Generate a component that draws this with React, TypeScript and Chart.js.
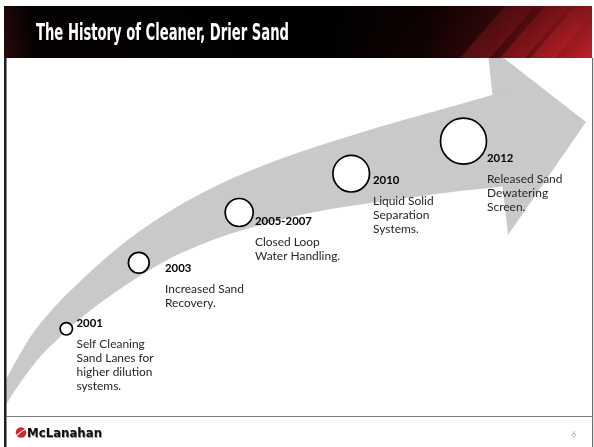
import React, { useEffect, useRef } from "react";
import { Chart, registerables } from "chart.js";

Chart.register(...registerables);

const TITLE = "The History of Cleaner, Drier Sand";
const BRAND = "McLanahan";
const PAGE_NUMBER = "6";

// Milestones along the arrow
const years = ["2001", "2003", "2005-2007", "2010", "2012"];
const descriptions = [
  ["Self Cleaning", "Sand Lanes for", "higher dilution", "systems."],
  ["Increased Sand", "Recovery."],
  ["Closed Loop", "Water Handling."],
  ["Liquid Solid", "Separation", "Systems."],
  ["Released Sand", "Dewatering", "Screen."],
];
const circleX = [66.3, 138.8, 239.2, 351.2, 463.5];
const circleY = [328.8, 262.8, 212.5, 173.7, 141.2];
const circleRadius = [6.2, 10.4, 14, 18.3, 23];
const labelX = [76.5, 165, 255, 373, 487];
const yearBaseline = [327, 272, 225, 184, 162];

// Arrow outline (slide pixel space)
const upperEdgeX = [5, 20, 33, 50, 67, 100, 133, 167, 200, 233, 267, 300, 350, 400, 450, 492, 508];
const upperEdgeY = [381, 354, 333, 312, 294, 263, 236, 213, 194, 178, 164, 152, 136, 121, 107, 95, 91];
const lowerEdgeX = [5, 20, 40, 60, 75, 100, 123, 167, 200, 233, 300, 350, 400, 460, 508];
const lowerEdgeY = [406, 383, 357, 337, 323, 303, 287, 260, 245, 233, 215, 206, 199, 191, 186];
const headTopX = [487, 586];
const headTopY = [45, 122];
const headBottomX = [487, 508, 586];
const headBottomY = [45, 235, 122];

const ARROW_GRAY = "#c9c9c9";

function pts(xs: number[], ys: number[]) {
  return xs.map((x, i) => ({ x, y: ys[i] }));
}

function fitText(ctx: CanvasRenderingContext2D, text: string, x: number, y: number, width: number) {
  const w = ctx.measureText(text).width;
  ctx.save();
  ctx.translate(x, y);
  ctx.scale(width / w, 1);
  ctx.fillText(text, 0, 0);
  ctx.restore();
}

const slidePlugin = {
  id: "slide",
  beforeDraw(chart: any) {
    const ctx: CanvasRenderingContext2D = chart.ctx;
    ctx.save();
    ctx.fillStyle = "#ffffff";
    ctx.fillRect(0, 0, chart.width, chart.height);
    ctx.restore();
  },
  afterDatasetsDraw(chart: any) {
    const ctx: CanvasRenderingContext2D = chart.ctx;
    ctx.save();

    // Header band
    const hx = 4, hy = 6, hw = 588, hh = 52;
    const g = ctx.createLinearGradient(hx, 0, hx + hw, 0);
    g.addColorStop(0, "#2a0a0a");
    g.addColorStop(0.05, "#060101");
    g.addColorStop(0.55, "#000000");
    g.addColorStop(0.72, "#140203");
    g.addColorStop(0.82, "#3a080b");
    g.addColorStop(0.9, "#6e0f15");
    g.addColorStop(0.96, "#a81a22");
    g.addColorStop(1, "#c0202a");
    ctx.fillStyle = g;
    ctx.fillRect(hx, hy, hw, hh);
    ctx.save();
    ctx.beginPath();
    ctx.rect(hx, hy, hw, hh);
    ctx.clip();
    const streaks = [
      [505, 535, 0.25],
      [545, 570, 0.3],
      [575, 600, 0.35],
    ];
    for (const [a, b, alpha] of streaks) {
      ctx.beginPath();
      ctx.moveTo(a, hy);
      ctx.lineTo(b, hy);
      ctx.lineTo(b - 45, hy + hh);
      ctx.lineTo(a - 45, hy + hh);
      ctx.closePath();
      ctx.fillStyle = `rgba(220,40,50,${alpha})`;
      ctx.fill();
    }
    const vg = ctx.createLinearGradient(0, hy, 0, hy + hh);
    vg.addColorStop(0, "rgba(0,0,0,0.35)");
    vg.addColorStop(1, "rgba(0,0,0,0)");
    ctx.fillStyle = vg;
    ctx.fillRect(hx, hy, hw, hh);
    ctx.restore();

    // Title
    ctx.fillStyle = "#ffffff";
    ctx.textBaseline = "alphabetic";
    ctx.font = "bold 23px 'Liberation Sans Narrow', 'DejaVu Sans Condensed', sans-serif";
    fitText(ctx, TITLE, 36, 39.5, 253);

    // Slide borders and footer rule
    ctx.fillStyle = "#1e1e1e";
    ctx.fillRect(4, 58, 2.5, 389);
    ctx.fillStyle = "#6e6e6e";
    ctx.fillRect(592, 58, 1.2, 389);
    ctx.fillStyle = "#7a7a7a";
    ctx.fillRect(6, 416, 587, 1);

    // Logo
    ctx.save();
    ctx.fillStyle = "#d8232a";
    ctx.beginPath();
    ctx.arc(21, 432.5, 5.3, 0, Math.PI * 2);
    ctx.fill();
    ctx.strokeStyle = "#ffffff";
    ctx.lineWidth = 1.2;
    ctx.beginPath();
    ctx.moveTo(16, 436);
    ctx.quadraticCurveTo(21, 431, 26, 429);
    ctx.stroke();
    ctx.restore();
    ctx.font = "bold 13px 'Liberation Sans Narrow', 'DejaVu Sans Condensed', sans-serif";
    ctx.fillStyle = "#9a9a9a";
    fitText(ctx, BRAND, 27.6, 437.6, 75);
    ctx.fillStyle = "#111111";
    fitText(ctx, BRAND, 27, 437, 75);

    // Page number
    ctx.font = "7px Lato, sans-serif";
    ctx.fillStyle = "#9a9a9a";
    ctx.fillText(PAGE_NUMBER, 572, 437);

    // Milestone labels
    ctx.font = "bold 12px Lato, sans-serif";
    const yearSize = (12 * 57) / ctx.measureText("2005-2007").width;
    ctx.font = "12px Lato, sans-serif";
    const bodySize = (12 * 79) / ctx.measureText("Increased Sand").width;
    for (let i = 0; i < years.length; i++) {
      ctx.font = `bold ${yearSize}px Lato, sans-serif`;
      ctx.fillStyle = "#000000";
      ctx.fillText(years[i], labelX[i], yearBaseline[i]);
      ctx.font = `${bodySize}px Lato, sans-serif`;
      ctx.fillStyle = "#262626";
      descriptions[i].forEach((line, j) => {
        ctx.fillText(line, labelX[i], yearBaseline[i] + 20.5 + j * 14);
      });
    }
    ctx.restore();
  },
};

export default function App() {
  const ref = useRef<HTMLCanvasElement | null>(null);
  useEffect(() => {
    if (!ref.current) return;
    const edgeStyle = {
      borderColor: "transparent",
      borderWidth: 0,
      pointRadius: 0,
      pointHoverRadius: 0,
      backgroundColor: ARROW_GRAY,
    };
    const chart = new Chart(ref.current, {
      type: "line",
      data: {
        datasets: [
          {
            label: "Milestones",
            data: pts(circleX, circleY),
            showLine: false,
            pointRadius: circleRadius,
            pointHoverRadius: circleRadius,
            pointBackgroundColor: "#ffffff",
            pointBorderColor: "#000000",
            pointBorderWidth: 1.7,
            fill: false,
          },
          {
            label: "Arrow upper edge",
            data: pts(upperEdgeX, upperEdgeY),
            ...edgeStyle,
            cubicInterpolationMode: "monotone",
            fill: "+1",
          },
          {
            label: "Arrow lower edge",
            data: pts(lowerEdgeX, lowerEdgeY),
            ...edgeStyle,
            cubicInterpolationMode: "monotone",
            fill: false,
          },
          {
            label: "Head top",
            data: pts(headTopX, headTopY),
            ...edgeStyle,
            tension: 0,
            fill: "+1",
          },
          {
            label: "Head bottom",
            data: pts(headBottomX, headBottomY),
            ...edgeStyle,
            tension: 0,
            fill: false,
          },
        ],
      } as any,
      options: {
        responsive: false,
        animation: false,
        events: [],
        layout: { padding: 0, autoPadding: false },
        scales: {
          x: { type: "linear", min: 0, max: 594, display: false },
          y: { type: "linear", min: 0, max: 447, reverse: true, display: false },
        },
        plugins: {
          legend: { display: false },
          tooltip: { enabled: false },
        },
      } as any,
      plugins: [slidePlugin],
    });
    return () => chart.destroy();
  }, []);
  return (
    <div style={{ position: "absolute", left: 0, top: 0, width: 594, height: 447 }}>
      <canvas ref={ref} width={594} height={447} style={{ display: "block" }} />
    </div>
  );
}
